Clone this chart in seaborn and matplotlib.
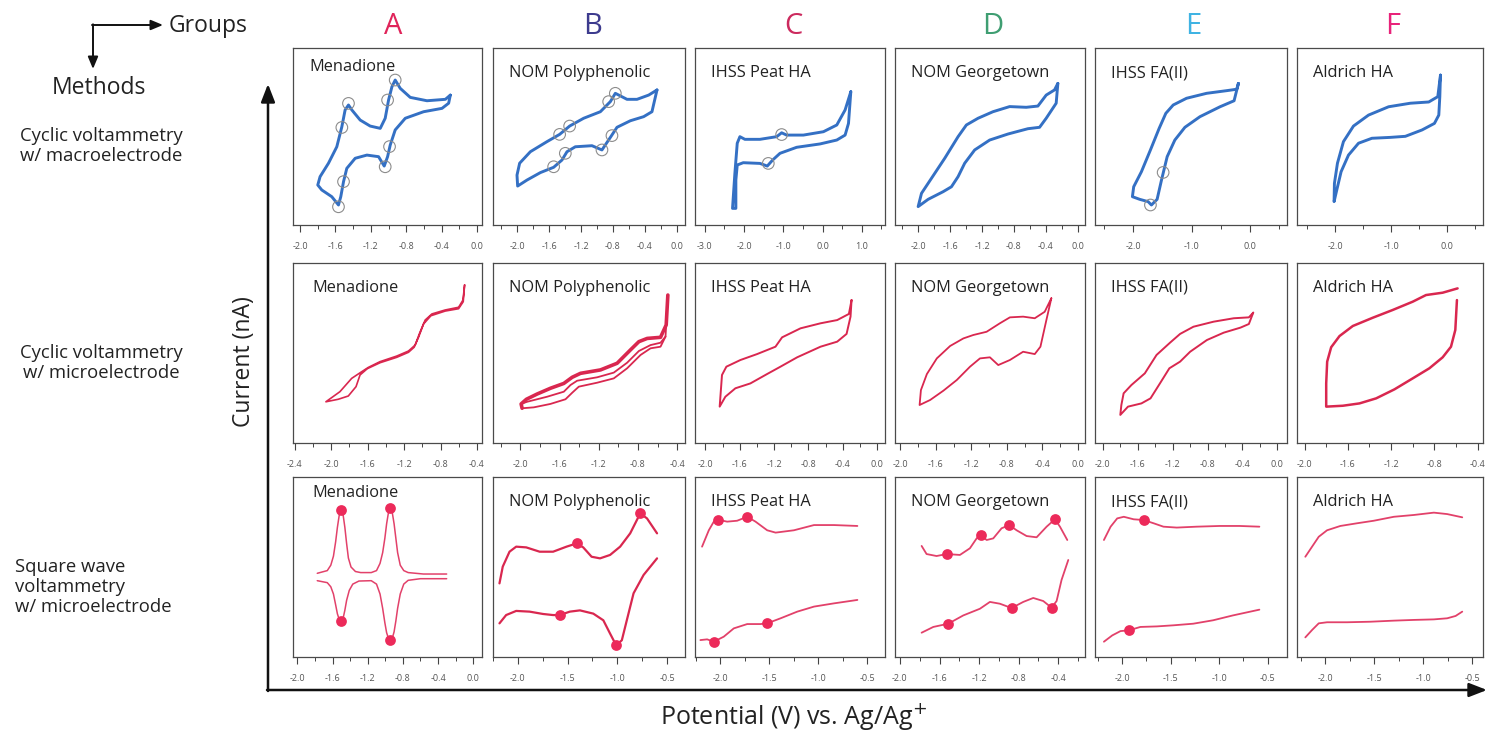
import matplotlib
matplotlib.use("Agg")
import matplotlib.pyplot as plt
from matplotlib.markers import MarkerStyle
from matplotlib.ticker import FixedLocator, MultipleLocator, FuncFormatter
import seaborn as sns

# ---------------------------------------------------------------- data
groups = ["A", "B", "C", "D", "E", "F"]
group_colors = ["#e0245a", "#3d3b8e", "#cc2a5e", "#3f9e72", "#3fb3e3", "#e8237a"]
samples = ["Menadione", "NOM Polyphenolic", "IHSS Peat HA", "NOM Georgetown",
           "IHSS FA(II)", "Aldrich HA"]
methods = ["Cyclic voltammetry\nw/ macroelectrode",
           "Cyclic voltammetry\nw/ microelectrode",
           "Square wave\nvoltammetry\nw/ microelectrode"]

# tick labels (V) for each row of panels, one list per group
ticks_cv_macro = [[-2.0, -1.6, -1.2, -0.8, -0.4, 0.0], [-2.0, -1.6, -1.2, -0.8, -0.4, 0.0],
                  [-3.0, -2.0, -1.0, 0.0, 1.0], [-2.0, -1.6, -1.2, -0.8, -0.4, 0.0],
                  [-2.0, -1.0, 0.0], [-2.0, -1.0, 0.0]]
ticks_cv_micro = [[-2.4, -2.0, -1.6, -1.2, -0.8, -0.4], [-2.0, -1.6, -1.2, -0.8, -0.4],
                  [-2.0, -1.6, -1.2, -0.8, -0.4, 0.0], [-2.0, -1.6, -1.2, -0.8, -0.4, 0.0],
                  [-2.0, -1.6, -1.2, -0.8, -0.4, 0.0], [-2.0, -1.6, -1.2, -0.8, -0.4]]
ticks_swv = [[-2.0, -1.6, -1.2, -0.8, -0.4, 0.0], [-2.0, -1.5, -1.0, -0.5],
             [-2.0, -1.5, -1.0, -0.5], [-2.0, -1.6, -1.2, -0.8, -0.4],
             [-2.0, -1.5, -1.0, -0.5], [-2.0, -1.5, -1.0, -0.5]]

# ---- cyclic voltammetry, macroelectrode (potential V, current a.u.)
a1_v = [-0.302, -0.358, -0.566, -0.755, -0.868, -0.925, -0.962, -1.000, -1.038, -1.094,
        -1.208, -1.321, -1.415, -1.453, -1.491, -1.528, -1.585, -1.679, -1.774, -1.800,
        -1.755, -1.642, -1.566, -1.540, -1.509, -1.472, -1.377, -1.245, -1.113, -1.049,
        -1.011, -0.981, -0.925, -0.811, -0.604, -0.396, -0.321, -0.302]
a1_i = [73.4, 71.0, 70.2, 72.1, 77.2, 81.9, 78.1, 70.6, 60.3, 54.6,
        55.9, 59.3, 65.0, 67.8, 65.0, 55.5, 44.2, 34.9, 27.3, 22.6,
        19.8, 16.0, 11.3, 16.0, 24.5, 32.0, 37.7, 39.5, 38.6, 33.3,
        38.6, 45.2, 53.7, 60.3, 64.0, 65.9, 68.8, 73.4]
a1_peak_v = [-0.925, -1.011, -1.453, -1.528, -1.509, -1.566, -1.038, -0.989]
a1_peak_i = [81.9, 70.6, 68.7, 55.1, 24.5, 10.3, 32.9, 44.3]

b1_v = [-0.25, -0.354, -0.5, -0.625, -0.771, -0.833, -0.958, -1.167, -1.342, -1.467,
        -1.625, -1.833, -1.967, -2.0, -1.992, -1.875, -1.708, -1.542, -1.438, -1.375,
        -1.271, -1.063, -0.938, -0.833, -0.75, -0.583, -0.417, -0.313, -0.25]
b1_i = [76.3, 73.4, 71.0, 71.0, 74.4, 69.7, 64.0, 60.3, 55.9, 51.2,
        47.1, 41.4, 34.9, 28.2, 22.0, 25.4, 29.6, 32.6, 36.7, 41.4,
        44.2, 44.8, 42.4, 49.5, 55.2, 58.9, 61.2, 64.0, 76.3]
b1_peak_v = [-0.771, -0.854, -1.342, -1.467, -1.542, -1.396, -0.938, -0.813]
b1_peak_i = [74.4, 69.7, 55.9, 51.2, 32.9, 40.5, 42.4, 50.5]

c1_v = [0.719, 0.574, 0.362, 0.021, -0.489, -0.915, -1.043, -1.17, -1.596, -1.979,
        -2.106, -2.174, -2.234, -2.294, -2.209, -2.209, -2.174, -2.021, -1.596, -1.409,
        -1.272, -1.085, -0.66, -0.064, 0.362, 0.574, 0.66, 0.719]
c1_i = [75.3, 65.0, 56.5, 52.7, 50.8, 50.8, 52.1, 49.9, 48.4, 48.4,
        49.9, 46.2, 29.2, 9.4, 9.4, 25.4, 33.9, 35.2, 34.8, 33.3,
        36.7, 40.5, 43.9, 45.8, 48.0, 50.8, 57.4, 75.3]
c1_peak_v = [-1.043, -1.383]
c1_peak_i = [51.1, 34.8]

d1_v = [-0.25, -0.292, -0.396, -0.5, -0.646, -0.854, -1.063, -1.25, -1.396, -1.5,
        -1.667, -1.833, -1.958, -2.0, -1.875, -1.688, -1.583, -1.5, -1.417, -1.292,
        -1.104, -0.875, -0.625, -0.479, -0.396, -0.271, -0.25]
d1_i = [80.0, 76.3, 73.4, 67.2, 66.5, 66.9, 64.0, 60.3, 56.5, 49.9,
        37.7, 26.4, 17.9, 10.4, 14.5, 18.8, 21.6, 27.3, 34.9, 42.4,
        48.0, 51.4, 54.4, 55.2, 60.3, 68.8, 80.0]

e1_v = [-0.2, -0.229, -0.4, -0.743, -1.086, -1.314, -1.44, -1.554, -1.703, -1.857,
        -1.989, -2.011, -1.886, -1.743, -1.686, -1.589, -1.514, -1.417, -1.286, -1.114,
        -0.857, -0.514, -0.274, -0.2]
e1_i = [80.0, 76.7, 75.9, 74.4, 71.6, 67.8, 63.1, 54.6, 42.4, 30.1,
        21.6, 16.0, 14.5, 13.2, 11.3, 14.5, 25.4, 38.6, 48.0, 55.2,
        61.2, 66.8, 70.2, 80.0]
e1_peak_v = [-1.486, -1.703]
e1_peak_i = [29.7, 11.3]

f1_v = [-0.119, -0.167, -0.328, -0.657, -1.045, -1.403, -1.672, -1.851, -1.958, -2.012,
        -2.018, -1.97, -1.893, -1.761, -1.582, -1.343, -1.015, -0.746, -0.448, -0.227,
        -0.149, -0.131, -0.119]
f1_i = [84.7, 72.5, 69.5, 68.8, 66.8, 62.1, 55.9, 47.1, 34.9, 23.5,
        13.2, 19.8, 30.1, 39.5, 46.2, 49.0, 49.5, 50.1, 53.7, 57.4,
        62.1, 72.5, 84.7]

# ---- cyclic voltammetry, microelectrode
a2_v = [-0.536, -0.554, -0.602, -0.749, -0.895, -0.969, -1.031, -1.079, -1.152, -1.281,
        -1.464, -1.593, -1.666, -1.776, -1.905, -2.059, -1.923, -1.813, -1.728, -1.684,
        -1.604, -1.464, -1.281, -1.152, -1.09, -1.042, -0.987, -0.906, -0.749, -0.602,
        -0.551, -0.536]
a2_i = [87.8, 79.4, 75.4, 73.9, 71.7, 68.3, 60.9, 54.4, 51.1, 48.3,
        45.2, 42.0, 39.6, 35.9, 28.5, 22.9, 24.3, 26.1, 31.3, 37.8,
        41.3, 44.6, 47.6, 50.4, 53.2, 58.7, 66.1, 70.7, 73.3, 74.6,
        78.5, 87.8]

b2_anodic_v = [-0.495, -0.512, -0.570, -0.706, -0.791, -0.877, -1.013, -1.183, -1.387,
               -1.472, -1.557, -1.694, -1.830, -1.939, -1.993, -1.983]
b2_anodic_i = [82.2, 65.6, 58.7, 58.1, 56.3, 51.7, 44.3, 40.6, 38.7,
               36.5, 33.1, 30.4, 27.2, 24.3, 21.7, 19.3]
b2_return1_v = [-1.983, -1.864, -1.694, -1.540, -1.472, -1.404, -1.217, -1.047, -0.911,
                -0.774, -0.672, -0.570, -0.519, -0.495]
b2_return1_i = [19.3, 19.8, 21.7, 24.3, 27.9, 31.3, 33.5, 35.9, 41.5,
                48.9, 52.6, 53.5, 59.1, 82.2]
b2_return2_v = [-1.993, -1.932, -1.728, -1.557, -1.489, -1.421, -1.217, -1.047, -0.911,
                -0.791, -0.672, -0.570, -0.519]
b2_return2_i = [21.7, 22.9, 25.7, 28.5, 32.2, 34.6, 36.5, 39.1, 44.6,
                51.1, 54.4, 55.7, 59.1]

c2_v = [-0.299, -0.330, -0.466, -0.660, -0.893, -1.107, -1.184, -1.398, -1.592, -1.755,
        -1.806, -1.833, -1.767, -1.650, -1.476, -1.282, -1.126, -0.932, -0.660, -0.466,
        -0.357, -0.311, -0.299]
c2_i = [79.4, 71.7, 68.3, 66.5, 63.7, 58.7, 53.5, 49.4, 46.1, 42.4,
        37.8, 20.2, 25.7, 30.4, 33.1, 38.3, 42.4, 47.6, 53.5, 56.3,
        60.6, 70.2, 79.4]

d2_v = [-0.299, -0.374, -0.486, -0.617, -0.766, -0.879, -1.028, -1.178, -1.290, -1.439,
        -1.589, -1.701, -1.768, -1.783, -1.664, -1.514, -1.364, -1.215, -1.103, -0.991,
        -0.897, -0.766, -0.617, -0.486, -0.422, -0.355, -0.299]
d2_i = [80.4, 72.9, 69.3, 70.2, 69.8, 66.5, 61.8, 60.0, 58.1, 53.9,
        47.0, 38.3, 29.4, 21.1, 23.9, 29.1, 35.0, 42.4, 47.0, 47.6,
        43.3, 46.1, 50.7, 49.4, 53.5, 68.3, 80.4]

e2_v = [-0.277, -0.327, -0.5, -0.731, -0.962, -1.115, -1.231, -1.385, -1.519, -1.673,
        -1.762, -1.788, -1.8, -1.712, -1.558, -1.454, -1.346, -1.238, -1.115, -1.0,
        -0.808, -0.615, -0.423, -0.327, -0.277]
e2_i = [72.4, 69.8, 69.3, 67.4, 64.6, 60.6, 55.7, 48.9, 38.7, 32.2,
        27.6, 21.1, 15.6, 20.2, 22.0, 24.8, 33.1, 41.5, 45.2, 50.7,
        57.2, 61.3, 64.1, 66.1, 72.4]

f2_v = [-0.585, -0.723, -0.877, -1.0, -1.185, -1.369, -1.554, -1.677, -1.754, -1.791,
        -1.8, -1.8, -1.646, -1.492, -1.338, -1.169, -1.0, -0.846, -0.723, -0.646,
        -0.606, -0.591]
f2_i = [85.9, 83.5, 82.2, 78.5, 73.9, 69.6, 65.0, 59.4, 53.2, 45.2,
        33.1, 20.2, 20.7, 22.0, 24.8, 29.8, 35.9, 41.5, 47.6, 53.5,
        62.8, 79.4]

# ---- square wave voltammetry, microelectrode (oxidative / reductive scans)
a3_ox_v = [-1.774, -1.660, -1.620, -1.590, -1.565, -1.545, -1.525, -1.502, -1.480, -1.460,
           -1.440, -1.420, -1.390, -1.340, -1.280, -1.160, -1.100, -1.060, -1.030, -1.005,
           -0.985, -0.965, -0.943, -0.920, -0.900, -0.880, -0.860, -0.830, -0.790, -0.740,
           -0.566, -0.302]
a3_ox_i = [46.5, 48.0, 51.0, 56.0, 64.0, 72.0, 78.5, 81.7, 79.0, 72.0,
           63.0, 55.0, 50.0, 47.5, 46.9, 46.9, 48.0, 52.0, 58.0, 66.0,
           74.0, 80.0, 82.6, 80.0, 74.0, 66.0, 58.0, 51.0, 48.0, 46.9,
           46.1, 46.1]
a3_red_v = [-1.774, -1.660, -1.620, -1.590, -1.565, -1.545, -1.525, -1.502, -1.480, -1.460,
            -1.440, -1.410, -1.370, -1.300, -1.160, -1.100, -1.060, -1.030, -1.005, -0.985,
            -0.965, -0.943, -0.920, -0.900, -0.880, -0.860, -0.830, -0.790, -0.740, -0.600,
            -0.302]
a3_red_i = [42.4, 41.3, 39.0, 35.0, 29.0, 24.0, 21.0, 20.2, 21.5, 26.0,
            31.5, 37.0, 40.5, 42.2, 42.4, 40.5, 35.0, 27.0, 19.0, 13.5,
            10.5, 9.4, 10.5, 14.0, 20.0, 27.0, 35.0, 40.5, 42.6, 43.5,
            43.5]
a3_peak_v = [-1.502, -0.943, -1.502, -0.943]
a3_peak_i = [81.7, 82.6, 20.2, 9.4]

b3_ox_v = [-2.185, -2.152, -2.084, -2.017, -1.916, -1.781, -1.646, -1.511, -1.410, -1.343,
           -1.259, -1.174, -1.073, -0.972, -0.871, -0.770, -0.702, -0.601]
b3_ox_i = [40.9, 50.2, 58.5, 61.3, 60.9, 58.5, 58.5, 61.3, 63.1, 60.9,
           55.7, 54.8, 56.7, 61.3, 68.7, 79.8, 77.0, 68.7]
b3_red_v = [-2.185, -2.118, -2.017, -1.882, -1.747, -1.646, -1.579, -1.478, -1.376, -1.242,
            -1.141, -1.073, -1.012, -0.955, -0.905, -0.837, -0.736, -0.601]
b3_red_i = [18.7, 23.3, 25.6, 25.2, 23.9, 23.3, 23.3, 25.2, 25.9, 24.1,
            20.4, 13.0, 6.5, 9.3, 20.4, 35.4, 45.6, 54.8]
b3_peak_v = [-1.410, -0.770, -1.579, -1.012]
b3_peak_i = [63.1, 79.8, 23.3, 6.5]

c3_ox_v = [-2.188, -2.119, -2.068, -2.027, -1.932, -1.830, -1.727, -1.642, -1.523, -1.437,
           -1.250, -1.045, -0.841, -0.602]
c3_ox_i = [61.3, 70.4, 75.2, 76.3, 75.2, 75.7, 77.9, 75.2, 70.4, 69.1,
           70.4, 73.3, 73.3, 72.8]
c3_red_v = [-2.205, -2.136, -2.068, -1.966, -1.864, -1.727, -1.591, -1.523, -1.386, -1.216,
            -1.045, -0.841, -0.602]
c3_red_i = [9.4, 9.8, 8.5, 11.3, 15.9, 18.3, 18.3, 18.7, 21.5, 25.2,
            28.0, 29.8, 31.7]
c3_peak_v = [-2.027, -1.727, -2.068, -1.523]
c3_peak_i = [76.3, 77.9, 8.5, 18.7]

d3_ox_v = [-1.781, -1.731, -1.630, -1.528, -1.394, -1.293, -1.225, -1.185, -1.124, -1.057,
           -0.973, -0.895, -0.821, -0.720, -0.619, -0.518, -0.434, -0.383, -0.309]
d3_ox_i = [61.7, 57.2, 56.1, 57.2, 56.7, 60.4, 65.9, 67.8, 65.0, 65.9,
           71.5, 73.3, 70.4, 67.2, 66.5, 72.4, 76.5, 72.4, 65.0]
d3_red_v = [-1.781, -1.663, -1.512, -1.360, -1.192, -1.091, -0.990, -0.872, -0.754, -0.653,
            -0.552, -0.468, -0.417, -0.367, -0.299]
d3_red_i = [13.5, 16.7, 18.5, 23.1, 26.8, 30.6, 29.6, 27.2, 30.6, 32.8,
            31.1, 27.4, 31.1, 42.8, 53.9]
d3_peak_v = [-1.528, -1.185, -0.895, -0.434, -1.512, -0.872, -0.468]
d3_peak_i = [57.2, 67.8, 73.3, 76.5, 18.5, 27.2, 27.4]

e3_ox_v = [-2.188, -2.119, -2.051, -1.983, -1.881, -1.778, -1.676, -1.574, -1.437, -1.233,
           -0.994, -0.790, -0.585]
e3_ox_i = [65.0, 72.4, 77.0, 77.9, 76.5, 76.1, 74.3, 72.4, 71.9, 72.4,
           72.8, 72.8, 72.4]
e3_red_v = [-2.188, -2.102, -2.017, -1.932, -1.812, -1.642, -1.472, -1.267, -1.062, -0.858,
            -0.585]
e3_red_i = [8.5, 12.0, 14.4, 14.8, 16.7, 17.0, 17.6, 18.5, 20.4, 23.1,
            26.3]
e3_peak_v = [-1.778, -1.932]
e3_peak_i = [76.1, 14.8]

f3_ox_v = [-2.205, -2.136, -2.068, -1.983, -1.847, -1.676, -1.506, -1.301, -1.097, -0.892,
           -0.756, -0.602]
f3_ox_i = [55.7, 61.3, 66.8, 70.4, 72.8, 74.3, 75.7, 77.9, 78.9, 80.2,
           79.4, 77.6]
f3_red_v = [-2.205, -2.136, -2.068, -1.983, -1.778, -1.540, -1.301, -1.097, -0.892, -0.756,
            -0.670, -0.602]
f3_red_i = [10.9, 15.0, 18.7, 19.3, 19.3, 19.6, 20.2, 20.6, 20.9, 21.5,
            22.8, 25.2]

# ---------------------------------------------------------------- style
sns.set_theme(style="white")
plt.rcParams["font.family"] = ["Open Sans", "DejaVu Sans"]
plt.rcParams["axes.unicode_minus"] = False
plt.rcParams["lines.solid_joinstyle"] = "round"
plt.rcParams["lines.solid_capstyle"] = "round"

W, H = 1490, 732
BLUE = "#3470c4"
RED = "#d9274f"
PINK = "#e2416a"
DOT = "#ec2a5a"
RING = "#8c8c8c"
INK = "#222222"

fig = plt.figure(figsize=(W / 100, H / 100), dpi=100)
fig.patch.set_facecolor("white")

# full-figure layer in pixel units (y grows downward) for labels and arrows
bg = fig.add_axes([0, 0, 1, 1], zorder=0)
bg.set_xlim(0, W)
bg.set_ylim(H, 0)
bg.axis("off")

col_px = [(293, 482), (493, 685), (695, 885), (895, 1085), (1095, 1287), (1297, 1483)]
row_px = [(48, 225), (263, 443), (477, 657)]

xlims = [
    [(-2.08, 0.056), (-2.3, 0.1), (-3.25, 1.59), (-2.29, 0.09), (-2.65, 0.63), (-2.68, 0.64)],
    [(-2.42, -0.345), (-2.28, -0.32), (-2.12, 0.09), (-2.06, 0.08), (-2.09, 0.11), (-2.07, -0.35)],
    [(-2.05, 0.1), (-2.25, -0.32), (-2.26, -0.32), (-2.05, -0.13), (-2.28, -0.3), (-2.29, -0.39)],
]
row_ticks = [ticks_cv_macro, ticks_cv_micro, ticks_swv]

# (curves, ring markers, dot markers) for each panel
panels = [
    [([(a1_v, a1_i, BLUE, 2.1)], (a1_peak_v, a1_peak_i), None),
     ([(b1_v, b1_i, BLUE, 2.1)], (b1_peak_v, b1_peak_i), None),
     ([(c1_v, c1_i, BLUE, 2.1)], (c1_peak_v, c1_peak_i), None),
     ([(d1_v, d1_i, BLUE, 2.1)], None, None),
     ([(e1_v, e1_i, BLUE, 2.1)], (e1_peak_v, e1_peak_i), None),
     ([(f1_v, f1_i, BLUE, 2.1)], None, None)],
    [([(a2_v, a2_i, RED, 1.2)], None, None),
     ([(b2_anodic_v, b2_anodic_i, RED, 2.6), (b2_return1_v, b2_return1_i, RED, 1.3),
       (b2_return2_v, b2_return2_i, RED, 1.3)], None, None),
     ([(c2_v, c2_i, RED, 1.4)], None, None),
     ([(d2_v, d2_i, RED, 1.3)], None, None),
     ([(e2_v, e2_i, RED, 1.4)], None, None),
     ([(f2_v, f2_i, RED, 1.8)], None, None)],
    [([(a3_ox_v, a3_ox_i, PINK, 1.1), (a3_red_v, a3_red_i, PINK, 1.1)], None, (a3_peak_v, a3_peak_i)),
     ([(b3_ox_v, b3_ox_i, RED, 1.6), (b3_red_v, b3_red_i, RED, 1.6)], None, (b3_peak_v, b3_peak_i)),
     ([(c3_ox_v, c3_ox_i, PINK, 1.3), (c3_red_v, c3_red_i, PINK, 1.3)], None, (c3_peak_v, c3_peak_i)),
     ([(d3_ox_v, d3_ox_i, PINK, 1.3), (d3_red_v, d3_red_i, PINK, 1.3)], None, (d3_peak_v, d3_peak_i)),
     ([(e3_ox_v, e3_ox_i, PINK, 1.3), (e3_red_v, e3_red_i, PINK, 1.3)], None, (e3_peak_v, e3_peak_i)),
     ([(f3_ox_v, f3_ox_i, PINK, 1.3), (f3_red_v, f3_red_i, PINK, 1.3)], None, None)],
]

# title offsets (px from panel top)
title_dy = [[19, 25, 25, 25, 25, 25], [25] * 6, [16, 25, 25, 25, 25, 25]]

fmt = FuncFormatter(lambda x, p: f"{0.0 if abs(x) < 1e-9 else x:.1f}")

for r, (top, bot) in enumerate(row_px):
    for c, (left, right) in enumerate(col_px):
        ax = fig.add_axes([left / W, 1 - bot / H, (right - left) / W, (bot - top) / H], zorder=2)
        curves, rings, dots = panels[r][c]
        for v, i, colr, lw in curves:
            sns.lineplot(x=v, y=i, sort=False, estimator=None, ax=ax, color=colr,
                         lw=lw, legend=False)
        if rings is not None:
            sns.scatterplot(x=rings[0], y=rings[1], ax=ax, color=RING, s=70,
                            marker=MarkerStyle("o", fillstyle="none"), linewidth=0.8,
                            legend=False, zorder=3)
        if dots is not None:
            sns.scatterplot(x=dots[0], y=dots[1], ax=ax, color=DOT, s=60,
                            linewidth=0, legend=False, zorder=3)
        ax.set_xlim(*xlims[r][c])
        ax.set_ylim(0, 100)
        ax.set_xlabel("")
        ax.set_ylabel("")
        ticks = row_ticks[r][c]
        ax.xaxis.set_major_locator(FixedLocator(ticks))
        ax.xaxis.set_minor_locator(MultipleLocator((ticks[1] - ticks[0]) / 2))
        ax.xaxis.set_major_formatter(fmt)
        ax.set_yticks([])
        ax.tick_params(axis="x", which="major", direction="out", length=5, width=0.8,
                       color="#444444", labelsize=6.5, labelcolor="#555555", pad=7,
                       bottom=True)
        ax.tick_params(axis="x", which="minor", direction="out", length=3, width=0.7,
                       color="#444444", bottom=True)
        for s in ax.spines.values():
            s.set_color("#4a4a4a")
            s.set_linewidth(0.9)
            s.set_visible(True)
        ax.set_facecolor("white")
        h = bot - top
        w = right - left
        dx = 19 if (c == 0 and r > 0) else 16
        ax.text(dx / w, 1 - title_dy[r][c] / h, samples[c], transform=ax.transAxes,
                ha="left", va="center", fontsize=11.8, color=INK)

# group letters
for k, (g, gc) in enumerate(zip(groups, group_colors)):
    bg.text(393 + 200 * k, 26, g, ha="center", va="center", fontsize=21, color=gc)

# corner key of the grid
bg.annotate("", xy=(163, 25), xytext=(92, 25),
            arrowprops=dict(arrowstyle="-|>,head_length=0.6,head_width=0.25", lw=1.4,
                            color="#111111", shrinkA=0, shrinkB=0))
bg.annotate("", xy=(93, 69), xytext=(93, 24.3),
            arrowprops=dict(arrowstyle="-|>,head_length=0.6,head_width=0.25", lw=1.4,
                            color="#111111", shrinkA=0, shrinkB=0))
bg.text(169, 26, "Groups", ha="left", va="center", fontsize=16.5, color=INK)
bg.text(99, 88, "Methods", ha="center", va="center", fontsize=16.5, color=INK)

# method labels
bg.text(101, 146, methods[0], ha="center", va="center", fontsize=13.3,
        color=INK, linespacing=1.2)
bg.text(101, 363, methods[1], ha="center", va="center", fontsize=13.3,
        color=INK, linespacing=1.2)
bg.text(15, 587, methods[2], ha="left", va="center", fontsize=13.3,
        color=INK, linespacing=1.15)

# global axes arrows and labels
bg.annotate("", xy=(268, 84), xytext=(268, 691),
            arrowprops=dict(arrowstyle="-|>,head_length=0.9,head_width=0.35", lw=1.8,
                            color="#111111", shrinkA=0, shrinkB=0))
bg.annotate("", xy=(1487, 690), xytext=(267, 690),
            arrowprops=dict(arrowstyle="-|>,head_length=0.9,head_width=0.35", lw=1.8,
                            color="#111111", shrinkA=0, shrinkB=0))
bg.text(244, 362, "Current (nA)", rotation=90, ha="center", va="center", fontsize=16.5,
        color=INK)
bg.text(793, 716, "Potential (V) vs. Ag/Ag$^{+}$", ha="center", va="center", fontsize=18,
        color=INK)

fig.savefig("out.png", dpi=100, facecolor="white")
